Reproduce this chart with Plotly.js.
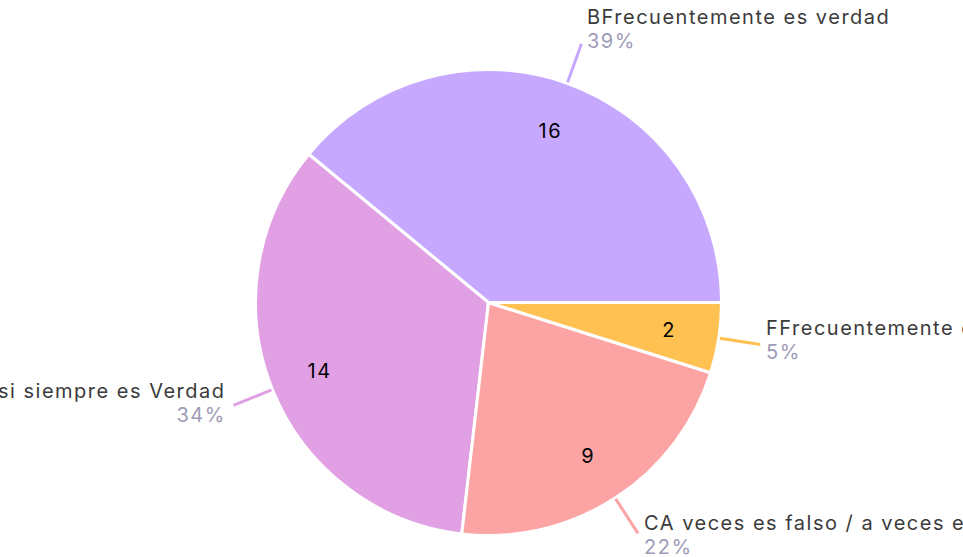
<!DOCTYPE html>
<html><head><meta charset="utf-8">
<script src="https://cdn.plot.ly/plotly-3.0.1.min.js"></script>
<style>
html,body{margin:0;padding:0;background:#fff;overflow:hidden}
#chart{width:963px;height:557px}
#chart .annotation-text{letter-spacing:1.5px}
</style>
</head><body><div id="chart"></div>
<script>
const labels = ['BFrecuentemente es verdad','ACasi siempre es Verdad','CA veces es falso / a veces es verdad','FFrecuentemente es falso'];
const values = [16, 14, 9, 2];
const colors = ['#c6a8ff', '#e2a0e4', '#fca3a3', '#ffc152'];

const W = 963, H = 557, CX = 488.5, CY = 302.5, R = 233, R_LINE = 275, R_VAL = 0.784 * R;
const FONT = 'Inter, "Open Sans", sans-serif';
const total = values.reduce((a, b) => a + b, 0);
const px = x => x / W, py = y => 1 - y / H;

let start = 0; // degrees counterclockwise from 3 o'clock
const shapes = [], annotations = [];
values.forEach((v, i) => {
  const sweep = 360 * v / total;
  const mid = (start + sweep / 2) * Math.PI / 180;
  start += sweep;
  const c = Math.cos(mid), s = Math.sin(mid);
  const ex = CX + R_LINE * c, ey = CY - R_LINE * s;
  shapes.push({type: 'line', xref: 'paper', yref: 'paper',
    x0: px(CX + (R + 1) * c), y0: py(CY - (R + 1) * s), x1: px(ex), y1: py(ey),
    line: {color: colors[i], width: 3}});
  const right = c >= 0;
  const tx = ex + (right ? 4 : -5);
  const side = right ? 'left' : 'right';
  const pctY = ey + 6 - 9 * s;
  const pct = Math.round(100 * v / total) + '%';
  annotations.push({xref: 'paper', yref: 'paper', x: px(tx), y: py(pctY),
    xanchor: side, align: side, yanchor: 'middle', showarrow: false,
    text: pct, font: {family: FONT, size: 20, color: '#9e9bb8'}});
  annotations.push({xref: 'paper', yref: 'paper', x: px(tx), y: py(pctY - 24),
    xanchor: side, align: side, yanchor: 'middle', showarrow: false,
    text: labels[i], font: {family: FONT, size: 20, color: '#3b3b3b'}});
  annotations.push({xref: 'paper', yref: 'paper', x: px(CX + R_VAL * c), y: py(CY - R_VAL * s),
    xanchor: 'center', yanchor: 'middle', showarrow: false,
    text: String(v), font: {family: FONT, size: 20, color: '#000000'}});
});

const data = [{
  type: 'pie',
  labels: labels,
  values: values,
  sort: false,
  direction: 'counterclockwise',
  rotation: 90 - 360 * values[0] / total,
  marker: {colors: colors, line: {color: '#ffffff', width: 3}},
  textinfo: 'none',
  hoverinfo: 'skip',
  showlegend: false,
  domain: {x: [px(CX - R), px(CX + R)], y: [py(CY + R), py(CY - R)]}
}];

const layout = {
  width: W, height: H,
  margin: {l: 0, r: 0, t: 0, b: 0},
  paper_bgcolor: '#ffffff',
  showlegend: false,
  shapes: shapes,
  annotations: annotations,
  font: {family: FONT}
};

Plotly.newPlot('chart', data, layout, {displayModeBar: false, staticPlot: true});
</script>
</body></html>
